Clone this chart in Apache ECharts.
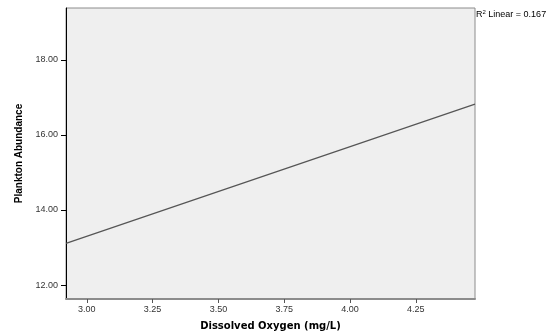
<!DOCTYPE html>
<html>
<head>
<meta charset="utf-8">
<script src="https://cdn.jsdelivr.net/npm/echarts@6/dist/echarts.min.js"></script>
<style>html,body{margin:0;padding:0;background:#fff}#c{width:557px;height:336px}</style>
</head>
<body>
<div id="c"></div>
<script>
// Fitted line endpoints
const fitX = [2.921, 4.475];
const fitY = [13.11, 16.82];
// Axis ranges and ticks
const xRange = [2.921, 4.475];
const yRange = [11.63, 19.38];
const xTicks = [3.00, 3.25, 3.50, 3.75, 4.00, 4.25];
const yTicks = [12, 14, 16, 18];
const xName = 'Dissolved Oxygen (mg/L)';
const yName = 'Plankton Abundance';
const r2Label = '0.167';

const chart = echarts.init(document.getElementById('c'), null, {renderer: 'canvas'});
chart.setOption({
  animation: false,
  grid: {left: 66, top: 8, right: 82, bottom: 35, show: true, backgroundColor: '#efefef', borderColor: '#8c8c8c', borderWidth: 1},
  graphic: [{
    type: 'text', left: 476, top: 9,
    style: {
      text: '{b|R}{s|2}{b| Linear = ' + r2Label + '}',
      rich: {
        b: {fontFamily: 'Liberation Sans, Arial', fontSize: 9, fill: '#000', verticalAlign: 'bottom'},
        s: {fontFamily: 'Liberation Sans, Arial', fontSize: 6, fill: '#000', verticalAlign: 'top', padding: [0,0,4,0]}
      }
    }
  }],
  xAxis: {
    type: 'value', min: xRange[0], max: xRange[1],
    name: xName, nameLocation: 'middle', nameGap: 22,
    nameTextStyle: {fontFamily: 'DejaVu Sans', fontWeight: 'bold', fontSize: 10, color: '#000'},
    axisLine: {show: true, lineStyle: {color: '#8c8c8c', width: 2}},
    axisTick: {show: true, customValues: xTicks, length: 4, lineStyle: {color: '#555'}},
    axisLabel: {customValues: xTicks, formatter: v => v.toFixed(2), fontFamily: 'Liberation Sans, Arial', fontSize: 9, color: '#333', margin: 6},
    splitLine: {show: false}
  },
  yAxis: {
    type: 'value', min: yRange[0], max: yRange[1],
    name: yName, nameLocation: 'middle', nameGap: 42,
    nameTextStyle: {fontFamily: 'Liberation Sans Narrow, Liberation Sans, Arial', fontWeight: 'bold', fontSize: 10, color: '#000'},
    axisLine: {show: true, lineStyle: {color: '#000', width: 1}},
    axisTick: {show: true, customValues: yTicks, length: 5, lineStyle: {color: '#000'}},
    axisLabel: {customValues: yTicks, formatter: v => v.toFixed(2), fontFamily: 'Liberation Sans, Arial', fontSize: 9, color: '#333', margin: 8},
    splitLine: {show: false}
  },
  series: [{
    type: 'line', data: fitX.map((x, i) => [x, fitY[i]]),
    showSymbol: false, lineStyle: {color: '#555', width: 1.2}
  }]
});
</script>
</body>
</html>
